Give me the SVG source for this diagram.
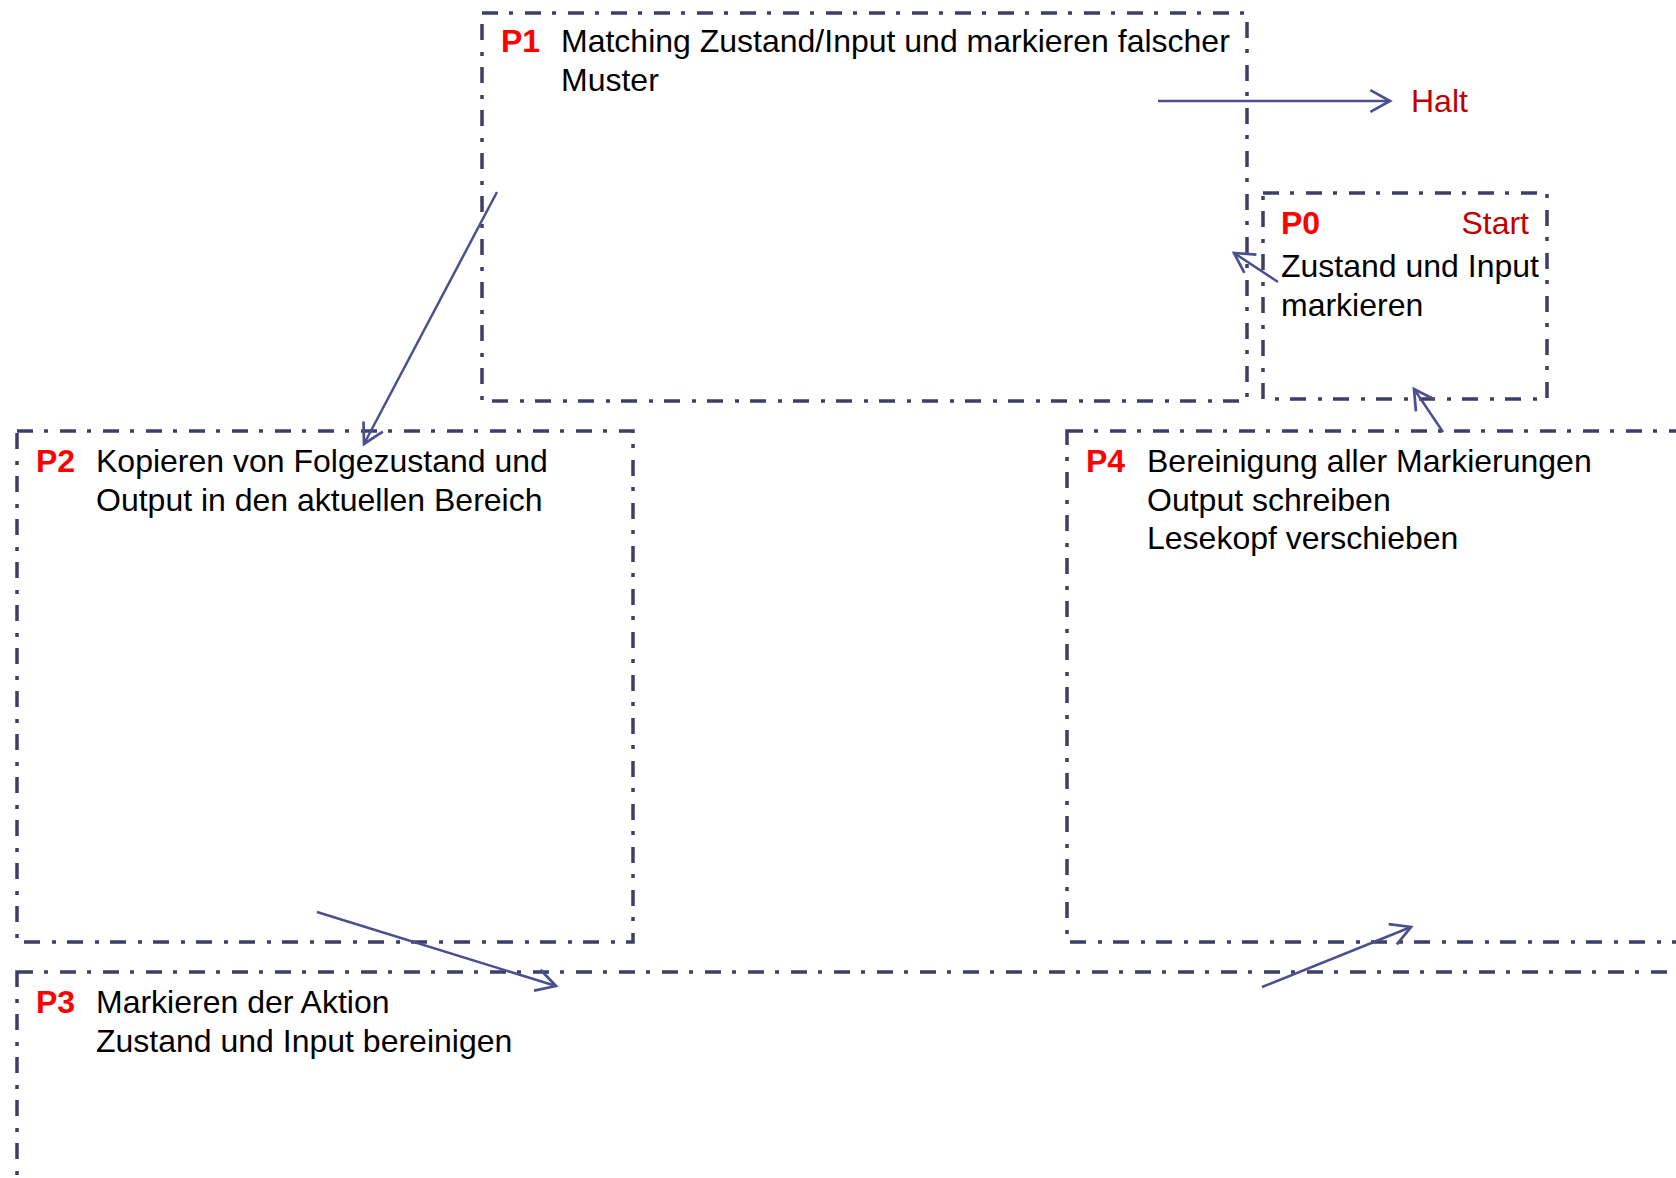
<svg xmlns="http://www.w3.org/2000/svg" width="1676" height="1178" viewBox="0 0 1676 1178">
<style>
.box{fill:none;stroke:#3e3e66;stroke-width:3.5;stroke-dasharray:16 11 4 12}
.t{font-family:"Liberation Sans",Arial,sans-serif;font-size:32px;fill:#000}
.p{font-family:"Liberation Sans",Arial,sans-serif;font-size:32px;font-weight:bold;fill:#FF0000}
.r{font-family:"Liberation Sans",Arial,sans-serif;font-size:32px;fill:#C00000}
.c{fill:none;stroke:#4b4f8f;stroke-width:2.5;marker-end:url(#ah)}
</style>
<defs>
<marker id="ah" markerUnits="userSpaceOnUse" markerWidth="24" markerHeight="24" viewBox="0 0 22 22" refX="20" refY="11" orient="auto" overflow="visible">
<path d="M2,1 L20,11 L2,21" fill="none" stroke="#4b4f8f" stroke-width="2.5"/>
</marker>
</defs>
<rect width="1676" height="1178" fill="#fff"/>
<g id="P1">
<rect class="box" x="482" y="13" width="765" height="388"/>
<text class="p" x="501" y="52">P1</text>
<text class="t" x="561" y="52">Matching Zustand/Input und markieren falscher</text>
<text class="t" x="561" y="91">Muster</text>
</g>
<g id="P0">
<rect class="box" x="1263" y="193" width="284" height="206"/>
<text class="p" x="1281" y="234">P0</text>
<text class="r" x="1529" y="234" text-anchor="end">Start</text>
<text class="t" x="1281" y="277">Zustand und Input</text>
<text class="t" x="1281" y="316">markieren</text>
</g>
<g id="Halt">
<text class="r" x="1411" y="112">Halt</text>
</g>
<g id="P2">
<rect class="box" x="17" y="431" width="616" height="511"/>
<text class="p" x="36" y="472">P2</text>
<text class="t" x="96" y="472">Kopieren von Folgezustand und</text>
<text class="t" x="96" y="511">Output in den aktuellen Bereich</text>
</g>
<g id="P4">
<rect class="box" x="1067" y="431" width="700" height="511"/>
<text class="p" x="1086" y="472">P4</text>
<text class="t" x="1147" y="472">Bereinigung aller Markierungen</text>
<text class="t" x="1147" y="511">Output schreiben</text>
<text class="t" x="1147" y="549">Lesekopf verschieben</text>
</g>
<g id="P3">
<rect class="box" x="17" y="972" width="1750" height="300"/>
<text class="p" x="36" y="1013">P3</text>
<text class="t" x="96" y="1013">Markieren der Aktion</text>
<text class="t" x="96" y="1052">Zustand und Input bereinigen</text>
</g>
<g id="connectors">
<line class="c" x1="1158" y1="101" x2="1390" y2="101"/>
<line class="c" x1="1278" y1="282" x2="1234" y2="253"/>
<line class="c" x1="497" y1="192" x2="364" y2="444"/>
<line class="c" x1="317" y1="912" x2="556" y2="986"/>
<line class="c" x1="1262" y1="987" x2="1411" y2="927"/>
<line class="c" x1="1443" y1="432" x2="1414" y2="389"/>
</g>
</svg>
